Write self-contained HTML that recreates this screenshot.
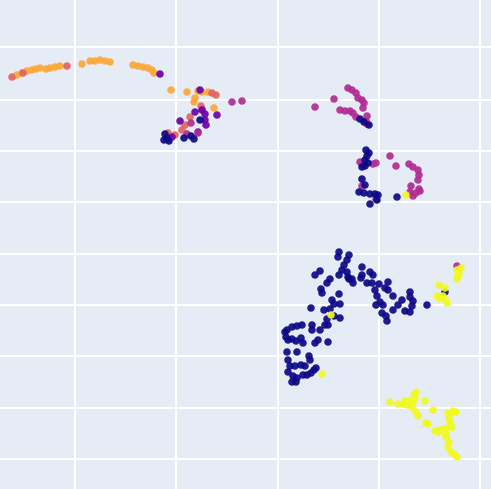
<!DOCTYPE html>
<html><head><meta charset="utf-8"><style>
html,body{margin:0;padding:0;background:#fff;}
svg{display:block;}
</style></head><body>
<svg id="chart" width="491" height="489" xmlns="http://www.w3.org/2000/svg">
<rect x="0" y="0" width="491" height="489" fill="#E5ECF6"/>
<g id="grid"></g>
<g id="marks"></g>
</svg>
<script>
const xTicks = [0, 101, 203, 304, 405];
const yTicks = [0, 51, 103, 154, 205, 257, 308, 359, 412];
const seriesNames = ["orange", "salmon", "purple", "magenta", "navy", "yellow"];
const seriesColors = ["#fca636", "#e16462", "#6a00a8", "#b12a90", "#0d0887", "#f0f921"];
const orangePts = [[-58,384],[-53,386],[-48,388],[-43,389],[-39,390],[-35,391],[-29,390],[-25,391],[-20,392],[-15,393],[7,395],[15,398],[20,398],[25,399],[30,398],[35,397],[58,394],[63,393],[68,392],[73,391],[77,389],[79,386],[96,369],[112,367],[120,361],[119,357],[123,368],[139,351],[127,367],[133,367]];
const salmonPts = [[-63,382],[-52,386],[-8,393],[137,366],[141,364],[126,353],[115,342],[110,334],[107,329],[100,324],[93,326],[127,350]];
const purplePts = [[85,385],[125,369],[120,347],[127,349],[130,345],[130,339],[142,344],[131,334],[123,327],[97,322],[105,338]];
const magentaPts = [[157,357],[167,358],[123,326],[112,325],[116,336],[240,352],[259,360],[273,371],[277,369],[281,366],[283,361],[287,359],[289,356],[288,351],[265,349],[270,348],[275,348],[278,346],[292,343],[291,338],[292,335],[281,342],[285,297],[288,294],[298,295],[301,296],[315,303],[321,293],[334,295],[338,292],[343,289],[344,284],[343,279],[344,270],[336,273],[335,267],[338,263],[341,266],[345,268],[287,273],[301,260],[382,193]];
const navyPts = [[90,325],[92,321],[94,318],[89,319],[109,321],[116,323],[119,320],[125,339],[285,340],[289,337],[294,334],[291,309],[294,306],[292,303],[290,299],[287,292],[290,293],[293,296],[287,280],[290,274],[284,267],[289,266],[295,265],[300,265],[303,264],[302,259],[295,255],[322,262],
[264,207],[263,202],[274,204],[272,199],[269,194],[267,189],[272,187],[274,180],[245,188],[240,184],[246,170],[247,166],[255,180],[252,176],[264,184],[273,182],[277,180],[278,176],[287,192],[287,184],[286,181],[292,176],[295,187],[298,184],[297,176],[304,175],[313,177],[310,171],[300,169],[302,163],[313,169],[318,163],[305,157],[301,154],[308,154],[307,146],[311,143],[312,138],[318,149],[323,154],[327,159],[335,167],[335,162],[338,158],[337,153],[330,148],[335,147],[352,154],[264,165],[257,159],[259,155],[255,150],[249,149],[252,140],[259,143],[265,141],[265,155],[236,151],[237,134],[237,129],[250,134],[253,134],[245,129],[243,119],[253,117],[240,116],[227,134],[222,133],[217,132],[212,129],[210,127],[211,122],[213,119],[217,120],[221,118],[226,121],[228,116],[222,107],[212,107],[213,99],[215,93],[213,87],[218,83],[222,81],[217,77],[221,77],[228,84],[232,84],[236,86],[239,89],[241,91],[235,99],[234,103],[230,93],[220,93],[226,94],[370,167]];
const yellowPts = [[331,264],[256,144],[247,85],[364,174],[370,171],[368,163],[365,160],[362,163],[371,159],[372,156],[382,189],[386,191],[384,185],[383,183],[382,180],[315,57],[323,55],[328,55],[330,58],[332,54],[335,58],[338,56],[339,64],[341,67],[340,61],[337,52],[341,47],[343,43],[350,58],[358,49],[351,36],[353,35],[360,28],[363,27],[365,29],[369,30],[372,31],[371,25],[373,46],[376,46],[378,48],[381,47],[374,41],[375,37],[377,32],[374,17],[371,22],[373,12],[376,7],[379,5],[382,2]];
const seriesData = [orangePts, salmonPts, purplePts, magentaPts, navyPts, yellowPts];

const NS = "http://www.w3.org/2000/svg";
function xScale(v){ return 75 + v; }
function yScale(v){ return 459 - v; }

const grid = document.getElementById("grid");
xTicks.forEach(t => {
  const l = document.createElementNS(NS, "line");
  
  
  l.setAttribute("x1", xScale(t)); l.setAttribute("x2", xScale(t));
  l.setAttribute("y1", 0); l.setAttribute("y2", 489);
  l.setAttribute("stroke", "#fff"); l.setAttribute("stroke-width", "2");
  grid.appendChild(l);
});
yTicks.forEach(t => {
  const l = document.createElementNS(NS, "line");
  
  
  l.setAttribute("x1", 0); l.setAttribute("x2", 491);
  l.setAttribute("y1", yScale(t)); l.setAttribute("y2", yScale(t));
  l.setAttribute("stroke", "#fff"); l.setAttribute("stroke-width", "2");
  grid.appendChild(l);
});

const marks = document.getElementById("marks");
seriesData.forEach((pts, si) => {
  const g = document.createElementNS(NS, "g");
  
  
  pts.forEach(p => {
    const c = document.createElementNS(NS, "circle");
    
    
    c.setAttribute("cx", xScale(p[0]));
    c.setAttribute("cy", yScale(p[1]));
    c.setAttribute("r", "3.8");
    c.setAttribute("fill", seriesColors[si]);
    c.setAttribute("fill-opacity", "0.92");
    g.appendChild(c);
  });
  marks.appendChild(g);
});
</script>
</body></html>
